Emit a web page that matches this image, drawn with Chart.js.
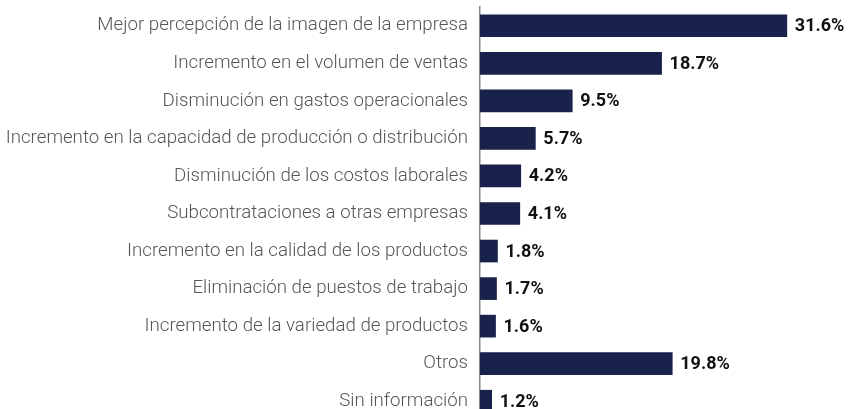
<!DOCTYPE html>
<html>
<head>
<meta charset="utf-8">
<script src="https://cdn.jsdelivr.net/npm/chart.js@4/dist/chart.umd.min.js"></script>
<style>
  html, body { margin: 0; padding: 0; background: #ffffff; overflow: hidden; }
  #wrap { width: 849px; height: 409px; overflow: hidden; }
</style>
</head>
<body>
<div id="wrap"><canvas id="c" width="849" height="420"></canvas></div>
<script>
const categories = [
  "Mejor percepción de la imagen de la empresa",
  "Incremento en el volumen de ventas",
  "Disminución en gastos operacionales",
  "Incremento en la capacidad de producción o distribución",
  "Disminución de los costos laborales",
  "Subcontrataciones a otras empresas",
  "Incremento en la calidad de los productos",
  "Eliminación de puestos de trabajo",
  "Incremento de la variedad de productos",
  "Otros",
  "Sin información"
];
const values = [31.6, 18.7, 9.5, 5.7, 4.2, 4.1, 1.8, 1.7, 1.6, 19.8, 1.2];
const valueLabels = ["31.6%", "18.7%", "9.5%", "5.7%", "4.2%", "4.1%", "1.8%", "1.7%", "1.6%", "19.8%", "1.2%"];

const valueLabelPlugin = {
  id: 'valueLabels',
  afterDatasetsDraw(chart) {
    const ctx = chart.ctx;
    const meta = chart.getDatasetMeta(0);
    ctx.save();
    ctx.font = '700 18px Roboto';
    ctx.fillStyle = '#111111';
    ctx.textAlign = 'left';
    ctx.textBaseline = 'middle';
    meta.data.forEach((bar, i) => {
      ctx.fillText(valueLabels[i], bar.x + 8, bar.y + 1);
    });
    ctx.restore();
  }
};

new Chart(document.getElementById('c'), {
  type: 'bar',
  data: {
    labels: categories,
    datasets: [{
      data: values,
      backgroundColor: '#19224a',
      borderWidth: 0,
      barThickness: 22
    }]
  },
  options: {
    indexAxis: 'y',
    responsive: false,
    animation: false,
    devicePixelRatio: 1,
    layout: { padding: { top: 7, right: 0, bottom: 0, left: 0 } },
    plugins: {
      legend: { display: false },
      tooltip: { enabled: false }
    },
    scales: {
      x: {
        display: false,
        min: 0,
        max: 38
      },
      y: {
        afterFit(scale) { scale.width = 480; scale.paddingTop = 0; scale.paddingBottom = 0; },
        grid: { display: false, drawTicks: false },
        border: { display: true, color: '#888888', width: 1.5 },
        ticks: {
          color: '#555555',
          padding: 12,
          font: { family: 'Roboto', size: 18.7, weight: '300' }
        }
      }
    }
  },
  plugins: [valueLabelPlugin]
});
</script>
</body>
</html>
